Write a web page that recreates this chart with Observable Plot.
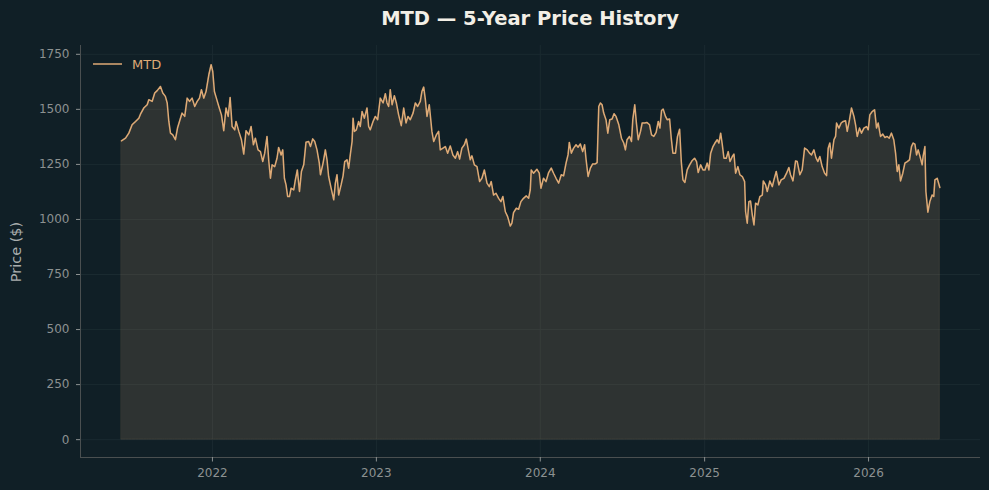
<!DOCTYPE html>
<html>
<head>
<meta charset="utf-8">
<script src="https://cdn.jsdelivr.net/npm/d3@7"></script>
<script src="https://cdn.jsdelivr.net/npm/@observablehq/plot@0.6"></script>
<style>
  html, body { margin: 0; padding: 0; background: #101f26; }
  #chart { width: 989px; height: 490px; }
</style>
</head>
<body>
<div id="chart"></div>
<script>
// ---- data (decimal years, prices in $) ----
const datesA = [2021.445,2021.470,2021.490,2021.510,2021.531,2021.551,2021.561,2021.581,2021.602,2021.612,2021.632,2021.648,2021.663,2021.683,2021.697,2021.713,2021.724,2021.734,2021.744,2021.758,2021.774,2021.787,2021.805,2021.815,2021.831,2021.846,2021.860,2021.876,2021.892,2021.907,2021.921,2021.933,2021.947,2021.961,2021.978,2021.992,2022.002,2022.012,2022.024,2022.039,2022.055,2022.069,2022.083,2022.096,2022.108,2022.120,2022.136,2022.144,2022.161,2022.177,2022.191,2022.205,2022.222,2022.236,2022.250,2022.262,2022.278,2022.293,2022.307,2022.319,2022.333,2022.344,2022.354,2022.364,2022.380,2022.394,2022.404,2022.419,2022.429,2022.439,2022.449,2022.459,2022.470,2022.480,2022.496,2022.506,2022.518,2022.531,2022.543,2022.557,2022.571,2022.587,2022.598,2022.612,2022.624,2022.638,2022.652];
const pricesA = [1357,1369,1392,1430,1445,1460,1478,1506,1521,1544,1536,1574,1585,1604,1574,1559,1529,1445,1392,1384,1362,1415,1460,1483,1468,1551,1536,1551,1513,1536,1551,1589,1551,1581,1657,1703,1672,1581,1551,1513,1475,1403,1506,1468,1554,1422,1407,1445,1400,1362,1297,1403,1384,1422,1339,1369,1316,1308,1263,1301,1377,1263,1187,1248,1240,1278,1327,1293,1316,1187,1157,1104,1104,1142,1134,1180,1225,1127,1218,1248,1351,1354,1331,1366,1354,1316,1256];

const datesB = [2022.659,2022.675,2022.689,2022.699,2022.709,2022.724,2022.740,2022.750,2022.760,2022.770,2022.785,2022.797,2022.807,2022.821,2022.831,2022.841,2022.852,2022.858,2022.866,2022.878,2022.892,2022.902,2022.913,2022.927,2022.943,2022.953,2022.963,2022.980,2022.994,2023.008,2023.024,2023.041,2023.055,2023.065,2023.075,2023.085,2023.096,2023.110,2023.122,2023.136,2023.152,2023.167,2023.181,2023.193,2023.207,2023.224,2023.238,2023.252,2023.268,2023.278,2023.289,2023.299,2023.309,2023.323,2023.339,2023.350,2023.366,2023.380,2023.390,2023.407,2023.421,2023.435,2023.451,2023.467,2023.482,2023.496,2023.508,2023.522,2023.537,2023.549,2023.561,2023.573,2023.583,2023.598,2023.614,2023.630,2023.644,2023.659,2023.675,2023.689,2023.701,2023.715,2023.730,2023.746,2023.760,2023.772,2023.787,2023.801,2023.817,2023.827,2023.837,2023.854,2023.868,2023.882,2023.898,2023.915,2023.929];
const pricesB = [1203,1256,1316,1271,1195,1142,1089,1165,1203,1111,1157,1198,1263,1271,1233,1293,1354,1460,1400,1407,1445,1422,1490,1460,1506,1422,1407,1445,1468,1453,1551,1529,1571,1529,1513,1589,1521,1562,1529,1475,1426,1506,1438,1468,1453,1483,1529,1513,1536,1581,1601,1544,1468,1521,1400,1354,1384,1400,1316,1324,1331,1301,1334,1293,1278,1308,1274,1324,1339,1365,1316,1271,1289,1248,1240,1172,1187,1225,1165,1149,1172,1111,1119,1096,1081,1104,1035,1013,970,983,1031,1051,1046,1081,1096,1107,1096];

const datesC = [2023.939,2023.945,2023.959,2023.980,2023.994,2024.004,2024.020,2024.035,2024.051,2024.067,2024.081,2024.096,2024.112,2024.128,2024.142,2024.157,2024.169,2024.177,2024.189,2024.203,2024.218,2024.230,2024.244,2024.258,2024.270,2024.279,2024.291,2024.305,2024.319,2024.335,2024.346,2024.356,2024.366,2024.376,2024.386,2024.400,2024.411,2024.423,2024.437,2024.449,2024.461,2024.478,2024.494,2024.508,2024.518,2024.528,2024.543,2024.555,2024.563,2024.575,2024.585,2024.596,2024.610,2024.620,2024.636,2024.650,2024.665,2024.677,2024.691,2024.705,2024.718,2024.728,2024.738,2024.748,2024.762,2024.772,2024.787,2024.797,2024.807,2024.823,2024.835,2024.848,2024.858,2024.868,2024.880,2024.894,2024.909,2024.925,2024.939,2024.951,2024.961,2024.976,2024.990,2025.002,2025.016,2025.026,2025.037,2025.051,2025.063,2025.077,2025.087,2025.098,2025.108,2025.118,2025.132,2025.144,2025.155,2025.169];
const pricesC = [1134,1225,1210,1228,1210,1142,1187,1172,1213,1233,1210,1187,1165,1203,1198,1256,1293,1350,1301,1324,1339,1328,1343,1308,1339,1271,1195,1233,1252,1252,1258,1513,1529,1521,1483,1453,1392,1453,1456,1480,1468,1430,1369,1347,1316,1362,1377,1354,1453,1521,1438,1362,1400,1438,1438,1440,1430,1384,1377,1395,1445,1415,1495,1501,1468,1453,1456,1369,1301,1301,1377,1410,1263,1180,1168,1225,1248,1268,1278,1263,1213,1248,1225,1225,1256,1225,1301,1331,1347,1362,1347,1392,1339,1278,1278,1308,1263,1286];

const datesD = [2025.179,2025.189,2025.203,2025.215,2025.230,2025.244,2025.250,2025.260,2025.270,2025.280,2025.291,2025.301,2025.311,2025.325,2025.337,2025.352,2025.358,2025.372,2025.382,2025.398,2025.413,2025.423,2025.437,2025.453,2025.467,2025.484,2025.500,2025.514,2025.524,2025.539,2025.555,2025.565,2025.581,2025.595,2025.610,2025.626,2025.640,2025.652,2025.667,2025.679,2025.691,2025.703,2025.717,2025.732,2025.744,2025.754,2025.764,2025.774,2025.789,2025.799,2025.805,2025.819,2025.833,2025.846,2025.860,2025.870,2025.884,2025.896,2025.911,2025.921,2025.931,2025.945,2025.957,2025.972,2025.988,2025.998,2026.008,2026.022,2026.037,2026.049,2026.059,2026.073,2026.087,2026.100,2026.114,2026.126,2026.140,2026.154,2026.165,2026.175,2026.185,2026.195,2026.209,2026.222,2026.236,2026.250,2026.262,2026.272,2026.283,2026.293,2026.303,2026.317,2026.327,2026.333,2026.344,2026.350,2026.362,2026.374,2026.388,2026.398,2026.405,2026.419,2026.435];
const pricesD = [1297,1210,1240,1203,1195,1172,1035,983,1081,1084,1020,975,1074,1066,1104,1111,1175,1157,1127,1175,1149,1180,1218,1157,1180,1187,1210,1236,1203,1175,1266,1263,1203,1225,1324,1316,1301,1293,1316,1281,1263,1286,1240,1210,1199,1324,1347,1278,1362,1377,1438,1415,1438,1445,1448,1400,1453,1506,1468,1430,1377,1415,1392,1415,1422,1407,1475,1490,1498,1415,1438,1377,1388,1372,1377,1369,1392,1362,1301,1218,1248,1175,1210,1256,1263,1271,1331,1347,1342,1293,1316,1278,1248,1286,1331,1127,1033,1081,1111,1104,1180,1187,1145];

const ticker = "MTD";
const title = "MTD \u2014 5-Year Price History";
const yLabel = "Price ($)";
const yTicks = [0, 250, 500, 750, 1000, 1250, 1500, 1750];
const xTickYears = [2022, 2023, 2024, 2025, 2026];
const xRange = [2021.195, 2026.683];
const yRange = [-81, 1790];

// ---- helpers ----
function decToDate(y) {
  const yr = Math.floor(y);
  const s = Date.UTC(yr, 0, 1), e = Date.UTC(yr + 1, 0, 1);
  return new Date(s + (y - yr) * (e - s));
}
const allDates = [...datesA, ...datesB, ...datesC, ...datesD];
const allPrices = [...pricesA, ...pricesB, ...pricesC, ...pricesD];
const data = allDates.map((d, i) => ({date: decToDate(d), price: allPrices[i]}));
const xTicks = xTickYears.map(y => new Date(Date.UTC(y, 0, 1)));

const bg = "#101f26";
const lineColor = "#deaa76";
const gridColor = "#1a2a30";
const spineColor = "#4a4f50";
const tickColor = "#8c9191";

const svg = Plot.plot({
  width: 989,
  height: 490,
  marginLeft: 80,
  marginRight: 9,
  marginTop: 45,
  marginBottom: 33,
  style: {background: bg, color: tickColor, fontFamily: "DejaVu Sans", fontSize: "12px"},
  x: {type: "utc", domain: xRange.map(decToDate)},
  y: {domain: yRange},
  marks: [
    Plot.gridX(xTicks, {stroke: gridColor, strokeOpacity: 1}),
    Plot.gridY(yTicks, {stroke: gridColor, strokeOpacity: 1}),
    Plot.areaY(data, {x: "date", y: "price", fill: lineColor, fillOpacity: 0.15, stroke: lineColor, strokeOpacity: 0.12, strokeWidth: 1}),
    Plot.lineY(data, {x: "date", y: "price", stroke: lineColor, strokeWidth: 1.5}),
    Plot.ruleX([decToDate(xRange[0])], {stroke: spineColor, strokeWidth: 1}),
    Plot.ruleY([yRange[0]], {stroke: spineColor, strokeWidth: 1}),
    Plot.axisX(xTicks, {tickFormat: d3.utcFormat("%Y"), tickSize: 4.5, tickPadding: 6, stroke: tickColor, fill: tickColor, label: null, fontSize: 12}),
    Plot.axisY(yTicks, {tickFormat: d => String(d), tickSize: 4, tickPadding: 7, stroke: tickColor, fill: tickColor, label: null, fontSize: 12})
  ]
});

const s = d3.select(svg);
s.append("text")
  .attr("x", 530).attr("y", 25)
  .attr("text-anchor", "middle")
  .attr("fill", "#f3efe6")
  .attr("font-family", "DejaVu Sans")
  .attr("font-weight", "bold")
  .attr("font-size", 19.5)
  .text(title);
s.append("text")
  .attr("transform", "translate(21,252) rotate(-90)")
  .attr("text-anchor", "middle")
  .attr("fill", "#a9adad")
  .attr("font-family", "DejaVu Sans")
  .attr("font-size", 14.5)
  .text(yLabel);
const leg = s.append("g");
leg.append("line")
  .attr("x1", 93).attr("x2", 122).attr("y1", 64).attr("y2", 64)
  .attr("stroke", lineColor).attr("stroke-width", 1.5);
leg.append("text")
  .attr("x", 132).attr("y", 69)
  .attr("text-anchor", "start")
  .attr("fill", lineColor)
  .attr("font-family", "DejaVu Sans")
  .attr("font-size", 13)
  .text(ticker);

document.getElementById("chart").appendChild(svg);
</script>
</body>
</html>
